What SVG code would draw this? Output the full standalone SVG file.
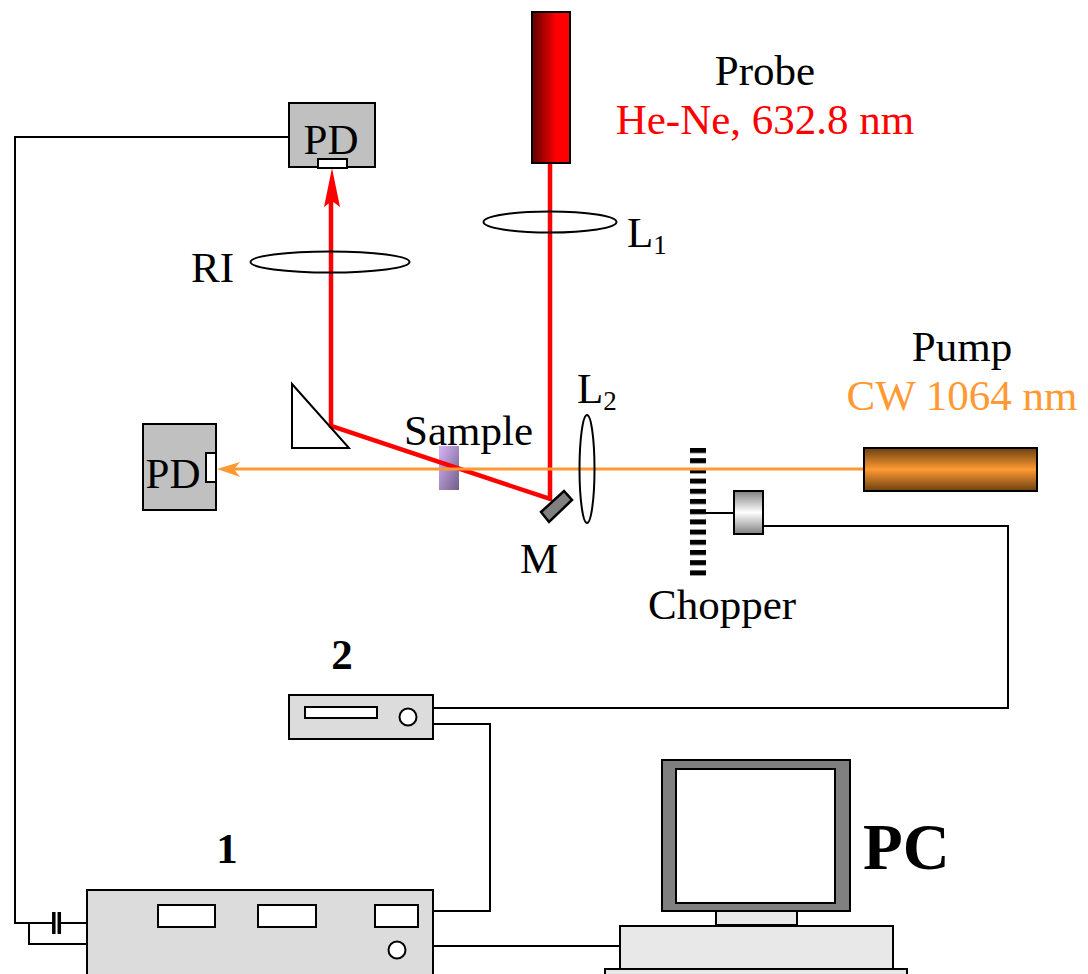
<svg xmlns="http://www.w3.org/2000/svg" width="1088" height="974" viewBox="0 0 1088 974">
<style>
text{font-family:"Liberation Serif","Times New Roman",serif;fill:#000}
.t{font-size:43px}
.b{font-weight:bold}
.k{stroke:#000;stroke-width:2;fill:none}
.s{stroke:#000;stroke-width:2}
.red{stroke:#f00;stroke-width:4.500;fill:none}
.org{stroke:#f93;stroke-width:3;fill:none}
.pd{fill:#c0c0c0;stroke:#000;stroke-width:2}
.w{fill:#fff;stroke:#000;stroke-width:2}
.lg{fill:#dcdcdc;stroke:#000;stroke-width:2}
.pc{fill:#e8e8e8;stroke:#000;stroke-width:2}
</style>
<defs>
<linearGradient id="gProbe" x1="0" x2="1" y1="0" y2="0"><stop offset="0" stop-color="#600000"/><stop offset="0.65" stop-color="#f00"/><stop offset="1" stop-color="#f00"/></linearGradient>
<linearGradient id="gPump" x1="0" x2="0" y1="0" y2="1"><stop offset="0" stop-color="#6b4010"/><stop offset="0.5" stop-color="#f93"/><stop offset="1" stop-color="#6b4010"/></linearGradient>
<linearGradient id="gSample" x1="0" x2="1" y1="0" y2="1"><stop offset="0" stop-color="#d8b4fa"/><stop offset="1" stop-color="#6f5f88"/></linearGradient>
<linearGradient id="gMotor" x1="0" x2="0" y1="0" y2="1"><stop offset="0" stop-color="#808080"/><stop offset="0.5" stop-color="#fff"/><stop offset="1" stop-color="#808080"/></linearGradient>
<pattern id="pChop" width="16" height="10.200" patternUnits="userSpaceOnUse" x="690" y="448"><rect width="16" height="10.200" fill="#fff"/><rect width="16" height="5" fill="#000"/></pattern>
</defs>

<g id="sample"><rect x="439" y="446" width="20" height="44" fill="url(#gSample)"/><text class="t" x="404" y="445">Sample</text></g>
<g id="chopper"><rect x="690" y="448" width="16" height="128" fill="url(#pChop)"/><rect x="734" y="491" width="29" height="43" fill="url(#gMotor)" class="s"/><text class="t" x="648" y="619">Chopper</text></g>

<g id="connectors">
<path class="k" d="M289 137H15V923H53M60 923H87"/>
<path class="k" d="M29 923V944H87"/>
<path class="k" d="M433 708H1008V526H763"/>
<path class="k" d="M433 724H490V911H433"/>
<path class="k" d="M433 946H620"/>
<path class="k" d="M706 513H734"/>
<path class="red" d="M550 163V499L331 426V190"/>
<polygon fill="#f00" points="332,168 324,207 332,201 340,207"/>
<path class="org" d="M864 469H226"/>
<polygon fill="#f93" points="217,469 240,462 234,469 240,477"/>
</g>

<g id="probe-laser"><rect x="532" y="12" width="38" height="151" fill="url(#gProbe)" class="s"/></g>
<g id="probe-label"><text class="t" x="765" y="85" text-anchor="middle">Probe</text><text class="t" x="765" y="134" text-anchor="middle" style="fill:#f00">He-Ne, 632.8 nm</text></g>
<g id="pump-label"><text class="t" x="962" y="361" text-anchor="middle">Pump</text><text class="t" x="962" y="410" text-anchor="middle" style="fill:#f93">CW 1064 nm</text></g>
<g id="pump-laser"><rect x="864" y="448" width="173" height="43" fill="url(#gPump)" class="s"/></g>

<g id="pd-top"><rect class="pd" x="289" y="103" width="86" height="64"/><text class="t" x="331" y="154" text-anchor="middle">PD</text><rect class="w" x="318" y="159" width="29" height="9"/></g>
<g id="pd-left"><rect class="pd" x="143" y="424" width="73" height="86"/><text class="t" x="173" y="488" text-anchor="middle">PD</text><rect class="w" x="206" y="453" width="10" height="29"/></g>

<g id="lens-l1"><ellipse class="k" cx="550" cy="222" rx="66.500" ry="10.500"/><text class="t" x="627" y="247">L<tspan font-size="27" dy="7">1</tspan></text></g>
<g id="lens-ri"><ellipse class="k" cx="330" cy="262" rx="79.500" ry="10.500"/><text class="t" x="191" y="282">RI</text></g>
<g id="lens-l2"><ellipse class="k" cx="587" cy="469" rx="7.500" ry="54"/><text class="t" x="577" y="403">L<tspan font-size="27" dy="7">2</tspan></text></g>

<g id="prism"><polygon class="k" points="292,384 349,448 292,448"/></g>
<g id="mirror"><polygon fill="#808080" stroke="#000" stroke-width="2.500" points="541,512 564,491 572,500 549,522"/><text class="t" x="520" y="573">M</text></g>

<g id="unit-2"><text class="t b" x="342" y="669" text-anchor="middle">2</text><rect class="lg" x="289" y="695" width="144" height="44"/><rect class="w" x="305" y="707" width="72" height="11"/><circle class="w" cx="408" cy="717" r="8.500"/></g>

<g id="unit-1"><text class="t b" x="227" y="863" text-anchor="middle">1</text><rect class="lg" x="87" y="890" width="346" height="100"/><rect class="w" x="158" y="905" width="57" height="22"/><rect class="w" x="258" y="905" width="58" height="22"/><rect class="w" x="375" y="905" width="43" height="22"/><circle class="w" cx="397" cy="950" r="8.500"/></g>
<g id="capacitor"><path d="M53.800 912V934M59.300 912V934" stroke="#000" stroke-width="3.500" fill="none"/></g>

<g id="pc"><rect x="662" y="760" width="188" height="151" fill="#808080" class="s"/><rect class="w" x="676" y="769" width="159" height="134"/><rect class="pc" x="716" y="911" width="81" height="14"/><rect class="pc" x="620" y="926" width="273" height="44"/><rect class="pc" x="605" y="969" width="302" height="10"/><text class="b" x="863" y="869" font-size="65">PC</text></g>
</svg>
